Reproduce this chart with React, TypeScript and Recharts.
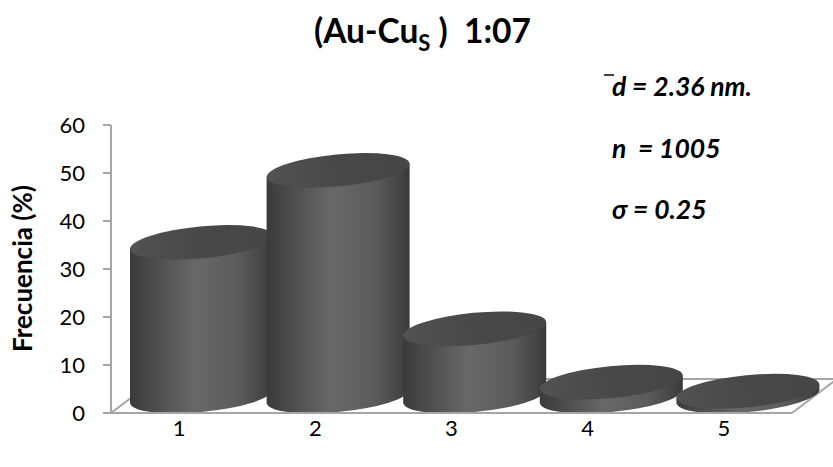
import React from "react";
import { BarChart, Bar, XAxis, YAxis, usePlotArea } from "recharts";

const categories = ["1", "2", "3", "4", "5"];
const frequency = [32, 47, 14, 2.9, 1];
const yTicks = [0, 10, 20, 30, 40, 50, 60];
const data = categories.map((c, i) => ({ category: c, value: frequency[i] }));

const AXIS = "#a6a6a6";
const FONT = "Lato, 'Open Sans', sans-serif";
const TILT = (-5.5 * Math.PI) / 180;
const RY = 16;
const HALF_WIDTH = 71.5;

function Cylinder(props: any) {
  const { x, y, width, height, index } = props;
  const X = HALF_WIDTH;
  const a = Math.sqrt((X * X - RY * RY * Math.sin(TILT) ** 2) / Math.cos(TILT) ** 2);
  const cx = x + width / 2 + 22.5 + index * 0.4;
  const baseY = y + height - 17;
  const topY = y - 17;
  const dy = ((a * a - RY * RY) * Math.sin(TILT) * Math.cos(TILT)) / X;
  const deg = (TILT * 180) / Math.PI;
  const body = `M ${cx - X} ${topY - dy} L ${cx - X} ${baseY - dy} A ${a} ${RY} ${deg} 0 0 ${cx + X} ${baseY + dy} L ${cx + X} ${topY + dy} Z`;
  return (
    <g>
      <path d={body} fill="url(#cylBody)" />
      <ellipse cx={cx} cy={topY} rx={a} ry={RY} transform={`rotate(${deg} ${cx} ${topY})`} fill="url(#cylTop)" />
    </g>
  );
}

function Floor() {
  const p = usePlotArea();
  if (!p) return null;
  const bottom = p.y + p.height;
  const right = p.x + p.width;
  const depthX = 45;
  const depthY = 34;
  return (
    <g>
      <polyline
        points={`${p.x},${bottom} ${p.x + depthX},${bottom - depthY} ${right + depthX},${bottom - depthY} ${right},${bottom}`}
        fill="none"
        stroke={AXIS}
        strokeWidth={2}
      />
    </g>
  );
}

export default function App() {
  return (
    <div style={{ position: "absolute", left: 0, top: 0, width: 833, height: 467, background: "#fff", overflow: "hidden" }}>
      <BarChart
        width={833}
        height={467}
        data={data}
        margin={{ top: 125, right: 41, bottom: 0, left: 0 }}
        barSize={120}
        style={{ fontFamily: FONT }}
      >
        <defs>
          <linearGradient id="cylBody" x1="0" y1="0" x2="1" y2="0">
            <stop offset="0" stopColor="#3a3a3a" />
            <stop offset="0.12" stopColor="#474747" />
            <stop offset="0.45" stopColor="#686868" />
            <stop offset="0.75" stopColor="#5c5c5c" />
            <stop offset="0.95" stopColor="#424242" />
            <stop offset="1" stopColor="#383838" />
          </linearGradient>
          <linearGradient id="cylTop" x1="0" y1="0" x2="1" y2="0">
            <stop offset="0" stopColor="#525252" />
            <stop offset="0.5" stopColor="#484848" />
            <stop offset="1" stopColor="#464646" />
          </linearGradient>
        </defs>
        <Floor />
        <XAxis
          dataKey="category"
          height={54}
          interval={0}
          tickLine={false}
          tickMargin={1}
          axisLine={{ stroke: AXIS, strokeWidth: 2 }}
          tick={{ fill: "#000", fontSize: 22, fontFamily: FONT }}
        />
        <YAxis
          width={111}
          domain={[0, 60]}
          ticks={yTicks}
          interval={0}
          tickSize={8}
          tickMargin={18}
          axisLine={{ stroke: AXIS, strokeWidth: 2 }}
          tickLine={{ stroke: AXIS, strokeWidth: 2 }}
          tick={{ fill: "#000", fontSize: 22, fontFamily: FONT }}
          label={{
            value: "Frecuencia (%)",
            angle: -90,
            position: "insideLeft",
            offset: 23,
            dy: 83,
            style: { fontWeight: 700, fontSize: 26, fill: "#000", fontFamily: FONT },
          }}
        />
        <Bar dataKey="value" isAnimationActive={false} shape={<Cylinder />} />
        <text x={314} y={43} fontFamily={FONT} fontWeight={700} fontSize={33.5} fill="#000" style={{ whiteSpace: "pre" }}>
          (Au-Cu
          <tspan fontSize={22} dy={8}>S</tspan>
          <tspan dy={-8}> )  1:07</tspan>
        </text>
        <g fontFamily={FONT} fontWeight={700} fontStyle="italic" fontSize={26.5} fill="#000">
          <text x={612} y={96} style={{ whiteSpace: "pre" }}>d = 2.36 nm.</text>
          <line x1={604} x2={614} y1={75} y2={75} stroke="#000" strokeWidth={1.5} />
          <text x={612} y={158} style={{ whiteSpace: "pre" }}>n  = 1005</text>
          <text x={612} y={219} style={{ whiteSpace: "pre" }}>σ = 0.25</text>
        </g>
      </BarChart>
    </div>
  );
}
